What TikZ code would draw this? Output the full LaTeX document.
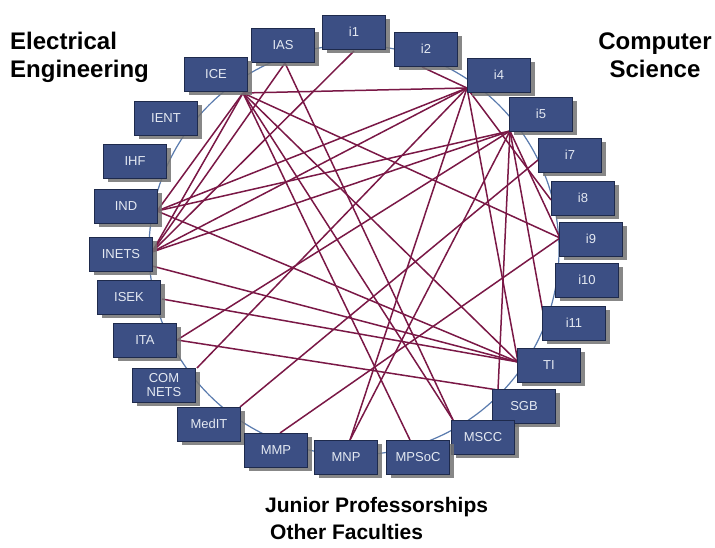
\documentclass[tikz,border=0pt]{standalone}
\usepackage{fontspec}
\setmainfont{Liberation Sans}
\usetikzlibrary{shadows}
\definecolor{boxfill}{HTML}{3C4F84}
\definecolor{boxline}{HTML}{1E2A4C}
\definecolor{boxtext}{HTML}{E4E9F2}
\definecolor{ring}{HTML}{5A7BAE}
\definecolor{link}{HTML}{7A1846}
\begin{document}
\begin{tikzpicture}[x=1pt,y=-1pt,
  box/.style={draw=boxline, line width=0.8pt, fill=boxfill, minimum width=63pt, minimum height=34pt,
    inner sep=0pt, text=boxtext, font=\fontsize{13}{13.5}\selectfont,
    drop shadow={shadow xshift=4pt, shadow yshift=-4pt, fill=black!55, opacity=0.85}},
  group/.style={font=\fontsize{24}{28}\selectfont\bfseries, align=left, inner sep=0pt},
  conn/.style={draw=link, line width=1.5pt}]
\useasboundingbox[fill=white] (0,0) rectangle (715,548);
% ring
\node[draw=ring, line width=1.2pt, circle, minimum size=410pt, inner sep=0pt] (ring) at (354,250) {};
% group titles
\node[group, anchor=north west] (ee) at (10,32) {Electrical\\Engineering};
\node[group, align=center, anchor=north] (cs) at (655,33) {Computer\\Science};
\node[group, font=\fontsize{21}{27}\selectfont\bfseries, anchor=north west] (jp) at (265,497) {Junior Professorships\\\hspace*{5pt}Other Faculties};
% ports (connector end points)
\coordinate (pICE) at (243,93);
\coordinate (pIAS) at (285,63);
\coordinate (pi1) at (354,51);
\coordinate (pi2) at (422,67);
\coordinate (pi4) at (467,88);
\coordinate (pi5) at (510,131);
\coordinate (pi7) at (538,160);
\coordinate (pi8) at (551,200);
\coordinate (pi9) at (560,238);
\coordinate (pi11) at (544,318);
\coordinate (pTI) at (518,362);
\coordinate (pSGB) at (498,390);
\coordinate (pMSCC) at (453,420);
\coordinate (pMPSoC) at (410,440);
\coordinate (pMNP) at (350,440);
\coordinate (pMMP) at (280,433);
\coordinate (pMedIT) at (240,407);
\coordinate (pCOM) at (197,368);
\coordinate (pITA) at (177,340);
\coordinate (pISEK) at (162,299);
\coordinate (pINETS) at (152,252);
\coordinate (pINETSb) at (152,266);
\coordinate (pIND) at (157,211);
% connectors
\foreach \a/\b in {ICE/i4, ICE/IND, ICE/INETS, ICE/i9, ICE/TI, ICE/MSCC, ICE/MPSoC,
  IAS/MSCC, IAS/INETS, i1/INETS, i2/i4,
  i4/IND, i4/INETS, i4/COM, i4/TI, i4/MNP, i4/i8,
  i5/IND, i5/INETS, i5/ITA, i5/SGB, i5/i9, i5/i11, i5/MNP,
  IND/TI, INETSb/TI, ISEK/TI, ITA/SGB, MedIT/i7, MMP/i9}
  \draw[conn] (p\a) -- (p\b);
% boxes
\node[box] (IAS) at (283,45) {IAS};
\node[box] (i1) at (354,32) {i1};
\node[box] (i2) at (426,49) {i2};
\node[box] (ICE) at (216,74) {ICE};
\node[box] (i4) at (499,75) {i4};
\node[box] (IENT) at (166,118) {IENT};
\node[box] (i5) at (541,114) {i5};
\node[box] (IHF) at (135,161) {IHF};
\node[box] (i7) at (570,155) {i7};
\node[box] (IND) at (126,206) {IND};
\node[box] (i8) at (583,198) {i8};
\node[box] (i9) at (591,239) {i9};
\node[box] (INETS) at (121,254) {INETS};
\node[box] (i10) at (587,280) {i10};
\node[box] (ISEK) at (129,297) {ISEK};
\node[box] (i11) at (574,323) {i11};
\node[box] (ITA) at (145,340) {ITA};
\node[box] (TI) at (549,365) {TI};
\node[box, align=center, font=\fontsize{13}{14}\selectfont] (COM) at (164,385) {COM\\NETS};
\node[box] (SGB) at (524,406) {SGB};
\node[box] (MedIT) at (209,424) {MedIT};
\node[box] (MSCC) at (483,437) {MSCC};
\node[box] (MMP) at (276,450) {MMP};
\node[box] (MNP) at (346,457) {MNP};
\node[box] (MPSoC) at (418,457) {MPSoC};
\end{tikzpicture}
\end{document}
